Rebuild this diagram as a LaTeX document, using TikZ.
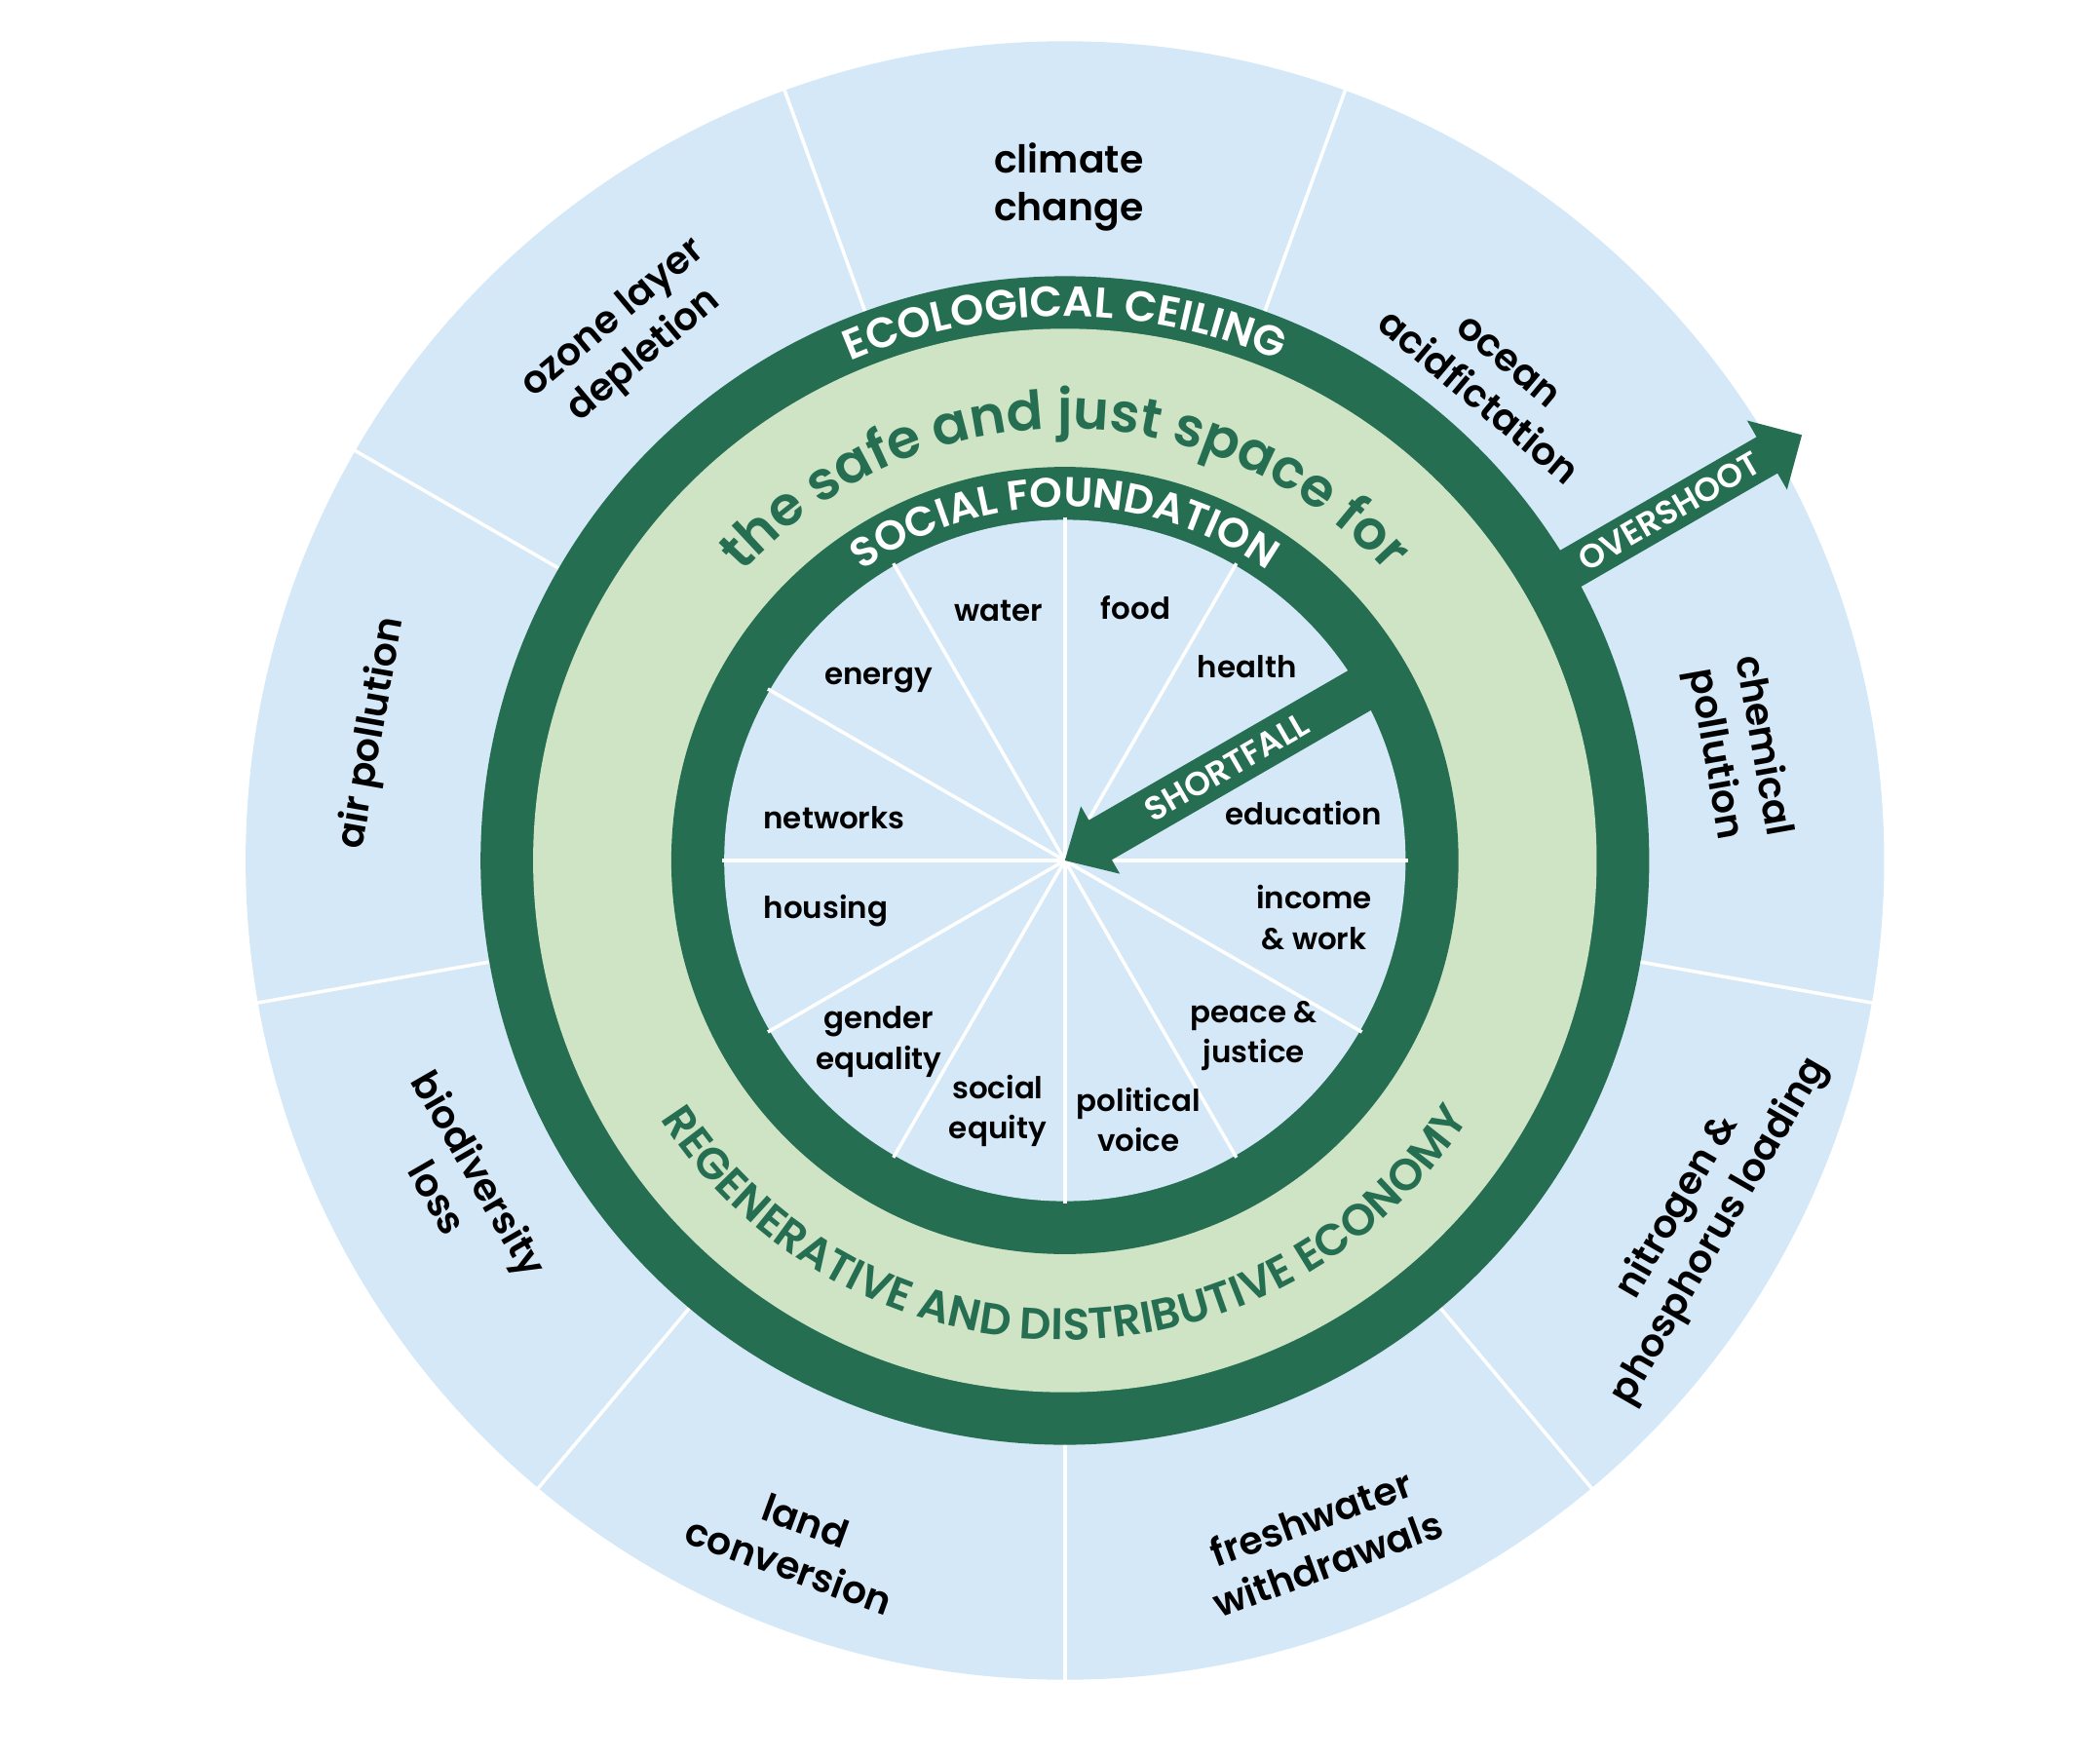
\documentclass[tikz,border=0pt]{standalone}
\usepackage{fontspec}
\setmainfont{Poppins}[UprightFont=* SemiBold, BoldFont=* Bold]
\newfontfamily\medfont{Poppins Medium}
\usetikzlibrary{decorations.text}
\definecolor{skyblue}{HTML}{D4E8F8}
\definecolor{ringgreen}{HTML}{266E52}
\definecolor{palegreen}{HTML}{CEE4C5}
\tikzset{
  divider/.style={draw=white, line width=1pt},
  outerlabel/.style={font=\fontsize{11.2}{14.1}\selectfont, align=center, text=black, inner sep=0pt},
  innerlabel/.style={font=\fontsize{8.8}{11.8}\selectfont, align=center, text=black, inner sep=0pt},
  arrowlabel/.style={font=\fontsize{9.7}{12}\selectfont, text=white, inner sep=0pt},
  arrowbody/.style={fill=ringgreen},
}
\begin{document}
\begin{tikzpicture}
\useasboundingbox (-10.928,-9.20) rectangle (10.622,8.83);
% rings
\fill[skyblue] (0,0) circle (8.407);
\foreach \a in {-90,-50,...,230} \draw[divider] (\a:5.9) -- (\a:8.45);
\fill[ringgreen] (0,0) circle (5.996);
\fill[palegreen] (0,0) circle (5.457);
\fill[ringgreen] (0,0) circle (4.039);
\fill[skyblue] (0,0) circle (3.496);
\foreach \a in {0,30,...,330} \draw[divider] (0,0) -- (\a:3.52);
% arrows
\begin{scope}[rotate=30]
\fill[arrowbody] (5.8,-0.215) -- (8.32,-0.215) -- (8.32,-0.41) -- (8.733,0) -- (8.32,0.41) -- (8.32,0.215) -- (5.8,0.215) -- cycle;
\fill[arrowbody] (3.7,0.235) -- (0.42,0.235) -- (0.42,0.40) -- (0,0) -- (0.42,-0.40) -- (0.42,-0.235) -- (3.7,-0.235) -- cycle;
\end{scope}
\node[arrowlabel, rotate=30] (overshoot) at (30:7.166) {OVERSHOOT};
\node[arrowlabel, rotate=30] (shortfall) at (30:1.92) {SHORTFALL};
% ring texts
\path[decorate, decoration={text along path, text align=center, text color=white,
  text={|\fontsize{12.4}{14}\selectfont|ECOLOGICAL CEILING}}]
  (160:5.58) arc[start angle=160, end angle=20, radius=5.58];
\path[decorate, decoration={text along path, text align=center, text color=white,
  text={|\fontsize{12.1}{14}\selectfont|SOCIAL FOUNDATION}}]
  (170:3.63) arc[start angle=170, end angle=10, radius=3.63];
\path[decorate, decoration={text along path, text align=center, text color=ringgreen,
  text={|\fontsize{15.8}{18}\selectfont|the safe and just space for}}]
  (175:4.43) arc[start angle=175, end angle=5, radius=4.43];
\path[decorate, decoration={text along path, text align=center, text color=ringgreen,
  text={|\fontsize{12.9}{14}\selectfont|REGENERATIVE AND DISTRIBUTIVE ECONOMY}}]
  (185:4.92) arc[start angle=185, end angle=355, radius=4.92];
% outer labels
\node[outerlabel] (climate) at (0.04,6.91) {climate\\change};
\node[outerlabel, rotate=-40] (ocean) at (48.3:6.60) {ocean\\acidfictation};
\node[outerlabel, rotate=-80] (chemical) at (9.3:7.00) {chemical\\pollution};
\node[outerlabel, rotate=60] (nitrogen) at (-29.5:7.477) {nitrogen \&\\phosphorus loading};
\node[outerlabel, rotate=20] (freshwater) at (-69.5:7.448) {freshwater\\withdrawals};
\node[outerlabel, rotate=-20] (land) at (-111.4:7.524) {land\\conversion};
\node[outerlabel, rotate=-60] (biodiversity) at (-151.8:7.05) {biodiversity\\loss};
\node[outerlabel, rotate=80] (air) at (169.6:7.225) {air pollution};
\node[outerlabel, rotate=40] (ozone) at (129.8:6.983) {ozone layer\\depletion};
% inner labels
\node[innerlabel] (water) at (-0.684,2.563) {water};
\node[innerlabel] (food) at (0.727,2.59) {food};
\node[innerlabel] (health) at (1.869,1.99) {health};
\node[innerlabel] (energy) at (-1.911,1.847) {energy};
\node[innerlabel] (networks) at (-2.369,0.44) {networks};
\node[innerlabel] (education) at (2.449,0.483) {education};
\node[innerlabel] (housing) at (-2.454,-0.52) {housing};
\node[innerlabel] (income) at (2.558,-0.587) {income\\\& work};
\node[innerlabel] (gender) at (-1.911,-1.86) {gender\\equality};
\node[innerlabel] (peace) at (1.94,-1.803) {peace \&\\justice};
\node[innerlabel] (social) at (-0.689,-2.57) {social\\equity};
\node[innerlabel] (political) at (0.755,-2.66) {political\\voice};
\end{tikzpicture}
\end{document}
